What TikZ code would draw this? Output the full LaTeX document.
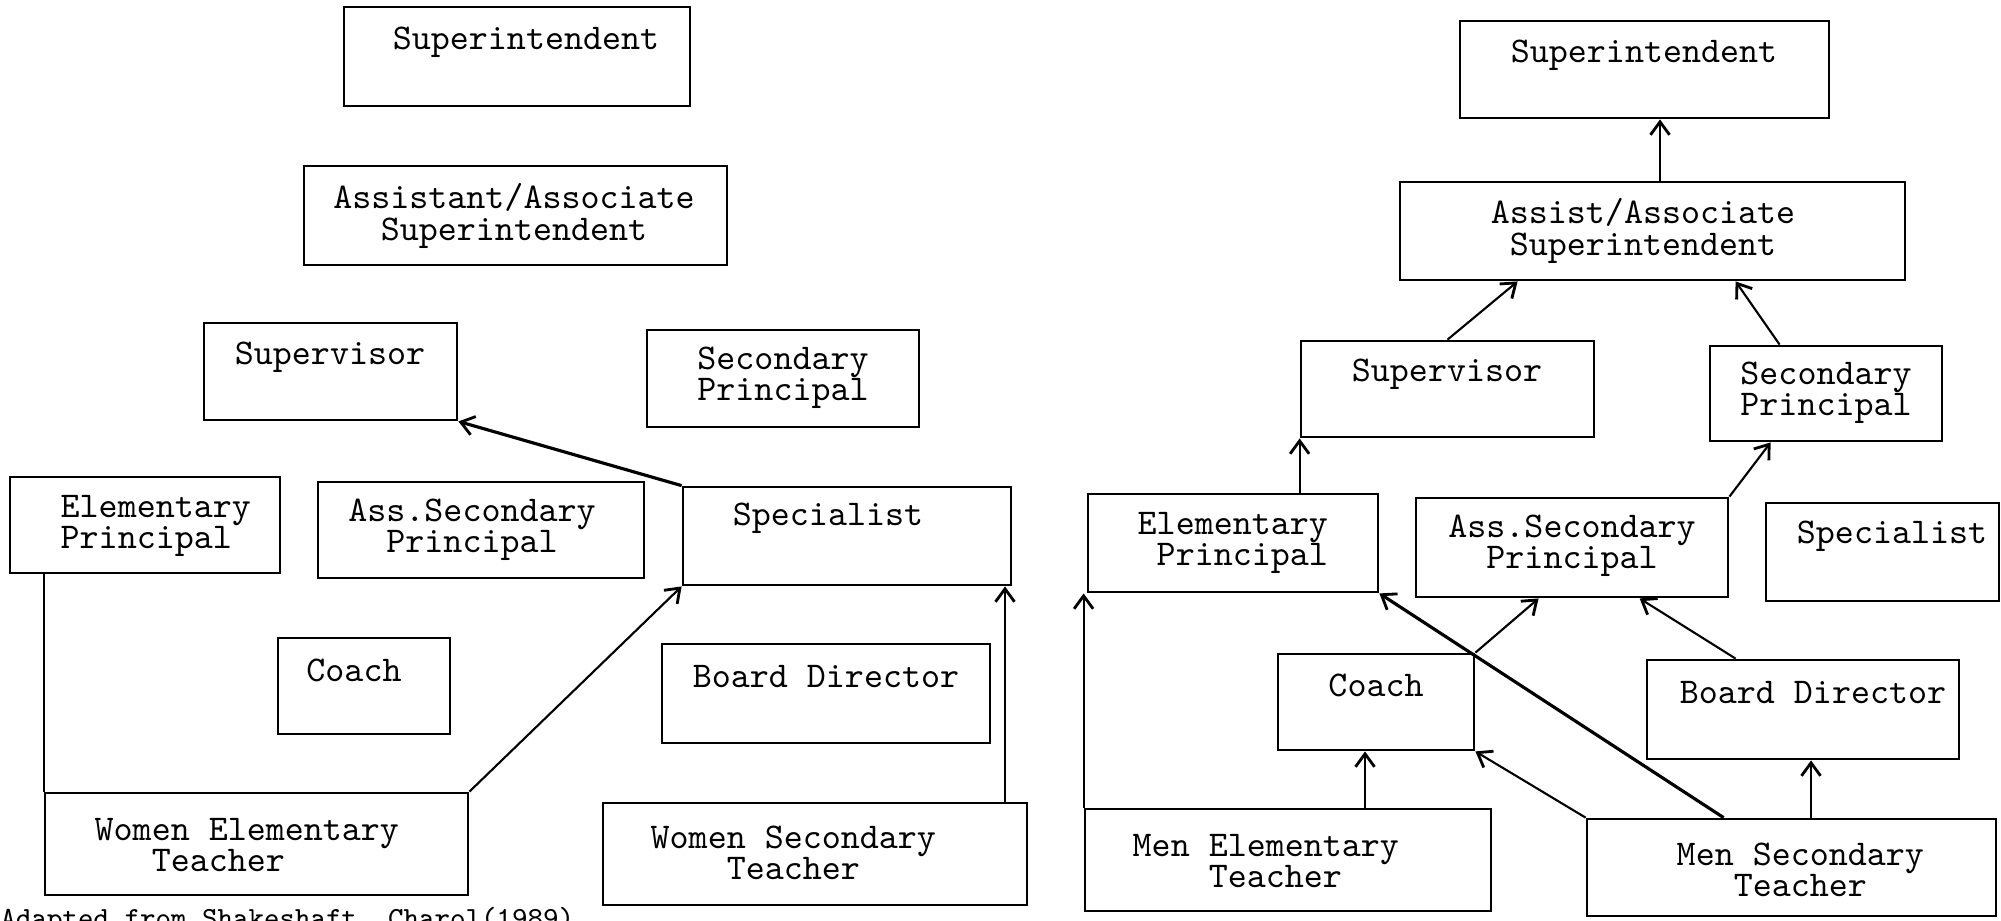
\documentclass[tikz,border=0pt]{standalone}
\usepackage{fontspec}
\usetikzlibrary{fit,calc,arrows.meta}
\begin{document}
\begin{tikzpicture}[x=0.01cm,y=-0.01cm,
  box/.style={draw, line width=0.8pt, inner sep=0pt},
  lbl/.style={inner sep=0pt, font=\fontsize{10.3pt}{8.9pt}\ttfamily, align=center},
  lbll/.style={lbl, align=left, anchor=west},
  arr/.style={line width=0.6pt, -{Straight Barb[length=1.3mm,width=1.9mm,line width=0.8pt]}},
  thickarr/.style={arr, line width=0.9pt},
  ln/.style={line width=0.6pt}]
\useasboundingbox (0,0) rectangle (2001,920);
\clip (0,0) rectangle (2001,920);

% ---------------- left chart: boxes ----------------
\node[box, fit={(344,7) (690,106)}] (supL) {};
\node[box, fit={(304,166) (727,265)}] (assocL) {};
\node[box, fit={(204,323) (457,420)}] (supvL) {};
\node[box, fit={(647,330) (919,427)}] (secpL) {};
\node[box, fit={(10,477) (280,573)}] (elemL) {};
\node[box, fit={(318,482) (644,578)}] (asecL) {};
\node[box, fit={(683,487) (1011,585)}] (specL) {};
\node[box, fit={(278,638) (450,734)}] (coachL) {};
\node[box, fit={(662,644) (990,743)}] (boardL) {};
\node[box, fit={(45,793) (468,895)}] (welemL) {};
\node[box, fit={(603,803) (1027,905)}] (wsecL) {};

% ---------------- left chart: texts ----------------
\node[lbl] (supL-t) at (526,42) {Superintendent};
\node[lbl] (assocL-t) at (514,216) {Assistant/Associate\\Superintendent};
\node[lbl] (supvL-t) at (330,357) {Supervisor};
\node[lbl] (secpL-t) at (783,378) {Secondary\\Principal};
\node[lbll] (elemL-t) at (60,526) {Elementary\\Principal};
\node[lbl] (asecL-t) at (472,530) {Ass.Secondary\\Principal};
\node[lbl] (specL-t) at (828,518) {Specialist};
\node[lbl] (coachL-t) at (354,670) {Coach};
\node[lbl] (boardL-t) at (826,677) {Board Director};
\node[lbll] (welemL-t) at (94,845) {Women Elementary\\\hphantom{xxx}Teacher};
\node[lbll] (wsecL-t) at (650,853) {Women Secondary\\\hphantom{xxxx}Teacher};

% ---------------- left chart: connectors ----------------
\draw[thickarr] (specL.north west) -- (supvL.south east);
\draw[arr] (welemL.north east) -- (specL.south west);
\coordinate (xw) at (1005,0);
\draw[arr] (xw |- wsecL.north) -- (xw |- specL.south);
\draw[ln] (welemL.north west |- elemL.south) -- (welemL.north west);

% ---------------- right chart: boxes ----------------
\node[box, fit={(1460,21) (1829,118)}] (supR) {};
\node[box, fit={(1400,182) (1905,280)}] (assocR) {};
\node[box, fit={(1301,341) (1594,437)}] (supvR) {};
\node[box, fit={(1710,346) (1942,441)}] (secpR) {};
\node[box, fit={(1088,494) (1378,592)}] (elemR) {};
\node[box, fit={(1416,498) (1728,597)}] (asecR) {};
\node[box, fit={(1766,503) (1999,601)}] (specR) {};
\node[box, fit={(1278,654) (1474,750)}] (coachR) {};
\node[box, fit={(1647,660) (1959,759)}] (boardR) {};
\node[box, fit={(1085,809) (1491,911)}] (menelR) {};
\node[box, fit={(1587,819) (1996,916)}] (mensR) {};

% ---------------- right chart: texts ----------------
\node[lbl] (supR-t) at (1644,55) {Superintendent};
\node[lbl] (assocR-t) at (1643,231) {Assist/Associate\\Superintendent};
\node[lbl] (supvR-t) at (1447,374) {Supervisor};
\node[lbl] (secpR-t) at (1826,393) {Secondary\\Principal};
\node[lbll] (elemR-t) at (1137,543) {Elementary\\\hphantom{x}Principal};
\node[lbl] (asecR-t) at (1572,546) {Ass.Secondary\\Principal};
\node[lbl] (specR-t) at (1892,536) {Specialist};
\node[lbl] (coachR-t) at (1376,685) {Coach};
\node[lbl] (boardR-t) at (1813,693) {Board Director};
\node[lbll] (menelR-t) at (1132,861) {Men Elementary\\\hphantom{xxxx}Teacher};
\node[lbll] (mensR-t) at (1676,870) {Men Secondary\\\hphantom{xxx}Teacher};

% ---------------- right chart: connectors ----------------
\coordinate (xs) at (1660,0);
\draw[arr] (xs |- assocR.north) -- (xs |- supR.south);
\draw[arr] (supvR.north) -- ($(assocR.south west)+(119,0)$);
\draw[arr] ($(secpR.north west)+(71,0)$) -- ($(assocR.south west)+(337,0)$);
\draw[arr] (supvR.west |- elemR.north) -- (supvR.south west);
\draw[arr] (asecR.north east) -- ($(secpR.south west)+(62,0)$);
\draw[arr] (menelR.north west) -- (menelR.north west |- elemR.south);
\draw[thickarr] ($(mensR.north west)+(138,0)$) -- (elemR.south east);
\draw[arr] (coachR.north east) -- ($(asecR.south west)+(124,0)$);
\draw[arr] ($(boardR.north west)+(90,0)$) -- ($(asecR.south west)+(225,0)$);
\coordinate (xc) at (1365,0);
\draw[arr] (xc |- menelR.north) -- (xc |- coachR.south);
\draw[arr] (mensR.north west) -- (coachR.south east);
\coordinate (xb) at (1811,0);
\draw[arr] (xb |- mensR.north) -- (xb |- boardR.south);

% ---------------- caption (cut off by the page edge) ----------------
\node[anchor=base west, inner sep=0pt, font=\fontsize{8.3pt}{9pt}\ttfamily] (cap) at (0,927) {Adapted from Shakeshaft, Charol(1989).};
\end{tikzpicture}
\end{document}
